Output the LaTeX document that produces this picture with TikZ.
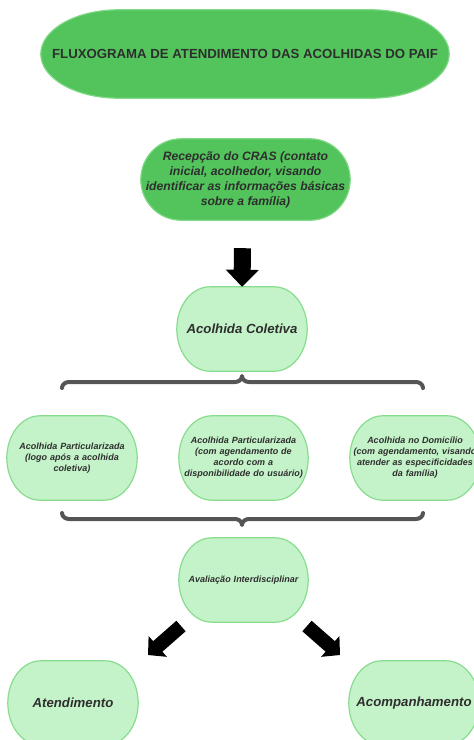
\documentclass[tikz,border=0pt]{standalone}
\usepackage{fontspec}
\setmainfont{Liberation Sans}
\usetikzlibrary{arrows.meta,backgrounds,calc}

\definecolor{darkgreen}{HTML}{52C45B}
\definecolor{darkgreenedge}{HTML}{7FD886}
\definecolor{lightgreen}{HTML}{C5F3C9}
\definecolor{lightgreenedge}{HTML}{87DC8E}
\definecolor{inktext}{HTML}{2E2E2E}
\definecolor{bracegray}{HTML}{555555}

% pill outline: flat top and bottom, half-elliptical sides of x radius #2
\newcommand\pillbox[3]{%
  \path[#3] let \p1=(#1.south west), \p2=(#1.north east), \n1={(\y2-\y1)/2} in
    (\x1+#2pt,\y2) -- (\x2-#2pt,\y2)
    arc[start angle=90,end angle=-90,x radius=#2pt,y radius=\n1]
    -- (\x1+#2pt,\y1)
    arc[start angle=270,end angle=90,x radius=#2pt,y radius=\n1] -- cycle;}

\tikzset{
  boxnode/.style={inner sep=0pt, align=center, text=inktext, font=\bfseries\itshape},
  darkpill/.style={fill=darkgreen, draw=darkgreenedge, line width=1.2pt},
  lightpill/.style={fill=lightgreen, draw=lightgreenedge, line width=1.2pt},
  smalltext/.style={font=\fontsize{9}{11}\selectfont\bfseries\itshape, text width=124pt},
  bigtext/.style={font=\fontsize{13.2}{15}\selectfont\bfseries\itshape},
  bracket/.style={draw=bracegray, line width=4pt, line cap=round, line join=round},
  downarrow/.style={line width=17pt, black, -{Triangle[length=17pt,width=32pt]}},
  slantarrow/.style={line width=14pt, black, -{Triangle[length=13pt,width=27pt]}},
}

\begin{document}
\begin{tikzpicture}[x=1pt,y=1pt]
\useasboundingbox (0,0) rectangle (474,-740);

% title and reception
\node[boxnode, minimum width=408, minimum height=88,
      font=\fontsize{13.2}{15}\selectfont\bfseries] (title) at (245,-54)
  {FLUXOGRAMA DE ATENDIMENTO DAS ACOLHIDAS DO PAIF};
\node[boxnode, minimum width=209, minimum height=81,
      font=\fontsize{12.2}{15}\selectfont\bfseries\itshape] (recep) at (245.5,-179.5)
  {Recepção do CRAS (contato\\ inicial, acolhedor, visando\\ identificar as informações básicas\\ sobre a família)};

% collective welcome
\node[boxnode, bigtext, minimum width=130, minimum height=84] (coletiva) at (242,-329)
  {Acolhida Coletiva};

% three kinds of individual welcome
\node[boxnode, smalltext, minimum width=130, minimum height=84] (part1) at (72,-458)
  {Acolhida Particularizada\\ (logo após a acolhida\\ coletiva)\\[4pt]};
\node[boxnode, smalltext, minimum width=129, minimum height=84] (part2) at (243.5,-458)
  {Acolhida Particularizada\\ (com agendamento de\\ acordo com a\\ disponibilidade do usuário)\\[4pt]};
\node[boxnode, smalltext, text width=130pt, minimum width=130, minimum height=84] (domic) at (415,-458)
  {Acolhida no Domicílio\\ (com agendamento, visando\\ atender as especificidades\\ da família)\\[4pt]};

% assessment and outcomes
\node[boxnode, smalltext, minimum width=129, minimum height=84] (aval) at (243.5,-580)
  {Avaliação Interdisciplinar};
\node[boxnode, bigtext, minimum width=130, minimum height=84] (atend) at (73,-703)
  {Atendimento};
\node[boxnode, bigtext, minimum width=130, minimum height=84] (acomp) at (414,-703)
  {Acompanhamento};

\begin{scope}[on background layer]
  \pillbox{title}{78}{darkpill}
  \pillbox{recep}{40}{darkpill}
  \pillbox{coletiva}{33}{lightpill}
  \pillbox{part1}{33}{lightpill}
  \pillbox{part2}{33}{lightpill}
  \pillbox{domic}{33}{lightpill}
  \pillbox{aval}{33}{lightpill}
  \pillbox{atend}{33}{lightpill}
  \pillbox{acomp}{33}{lightpill}
\end{scope}

% block arrows
\coordinate (dtail) at ($(recep.south)+(-3,-28)$);
\draw[downarrow] (dtail) -- (coletiva.north);
\coordinate (ltail) at (181,-626);
\coordinate (ltip)  at (148,-655);
\coordinate (rtail) at (307,-626);
\coordinate (rtip)  at (340,-655);
\draw[slantarrow] (ltail) -- (ltip);
\draw[slantarrow] (rtail) -- (rtip);

% braces
\draw[bracket] (62,-388) to[out=90,in=180] (69,-382) -- (235,-382)
  to[out=0,in=-90] (242,-376) to[out=-90,in=180] (249,-382) -- (416,-382)
  to[out=0,in=90] (423,-388);
\draw[bracket] (62,-513) to[out=-90,in=180] (69,-519) -- (235,-519)
  to[out=0,in=90] (242,-525) to[out=90,in=180] (249,-519) -- (416,-519)
  to[out=0,in=-90] (423,-513);
\end{tikzpicture}
\end{document}
